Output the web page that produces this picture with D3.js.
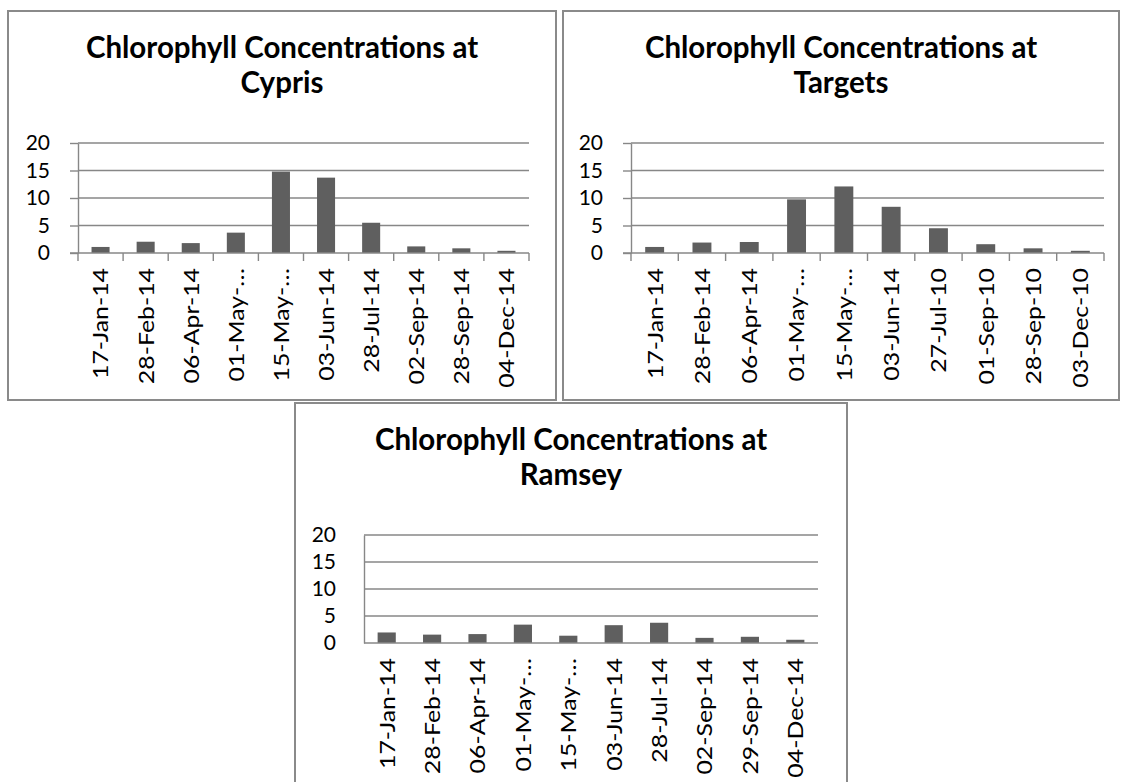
<!DOCTYPE html>
<html><head><meta charset="utf-8">
<script src="https://cdn.jsdelivr.net/npm/d3@7"></script>
<style>body{margin:0;background:#fff}svg{display:block}</style>
</head><body>
<svg id="c" width="1121" height="782"></svg>
<script>
const cyprisDates = ["17-Jan-14","28-Feb-14","06-Apr-14","01-May-…","15-May-…","03-Jun-14","28-Jul-14","02-Sep-14","28-Sep-14","04-Dec-14"];
const cyprisValues = [1.1, 2.05, 1.8, 3.7, 14.8, 13.7, 5.5, 1.2, 0.85, 0.4];
const targetsDates = ["17-Jan-14","28-Feb-14","06-Apr-14","01-May-…","15-May-…","03-Jun-14","27-Jul-10","01-Sep-10","28-Sep-10","03-Dec-10"];
const targetsValues = [1.1, 1.9, 2.0, 9.75, 12.1, 8.4, 4.5, 1.6, 0.85, 0.4];
const ramseyDates = ["17-Jan-14","28-Feb-14","06-Apr-14","01-May-…","15-May-…","03-Jun-14","28-Jul-14","02-Sep-14","29-Sep-14","04-Dec-14"];
const ramseyValues = [1.95, 1.55, 1.65, 3.4, 1.35, 3.3, 3.75, 0.95, 1.15, 0.6];
const yTicks = [0, 5, 10, 15, 20];
const titles = ["Chlorophyll Concentrations at Cypris","Chlorophyll Concentrations at Targets","Chlorophyll Concentrations at Ramsey"];

const svg = d3.select("#c");
const FONT = "Lato, 'Open Sans', sans-serif";
const GRID = "#878787";

function drawChart(cfg){
  const g = svg.append("g");
  g.append("rect").attr("x",cfg.fx).attr("y",cfg.fy).attr("width",cfg.fw).attr("height",cfg.fh)
    .attr("fill","#fff").attr("stroke","#8a8a8a").attr("stroke-width",2);
  const cx = cfg.fx + cfg.fw/2;
  const words = cfg.title.split(" ");
  const line2 = words.pop();
  g.append("text").attr("x",cx).attr("y",cfg.fy+47).attr("text-anchor","middle")
    .attr("font-family",FONT).attr("font-weight","bold").attr("font-size",29.5).text(words.join(" "));
  g.append("text").attr("x",cx).attr("y",cfg.fy+82).attr("text-anchor","middle")
    .attr("font-family",FONT).attr("font-weight","bold").attr("font-size",29.5).text(line2);

  const idx = cfg.dates.map((d,i)=>i);
  const x = d3.scaleBand().domain(idx).range([cfg.x0,cfg.x1]).paddingInner(0.6).paddingOuter(0.3);
  const xb = d3.scaleBand().domain(idx).range([cfg.x0,cfg.x1]);
  const y = d3.scaleLinear().domain([0,20]).range([cfg.y0,cfg.y1]);
  const tk = cfg.ticks ? 8 : 0;

  // gridlines
  g.append("g").selectAll("line").data(yTicks.filter(t=>t>0)).join("line")
    .attr("x1",cfg.x0).attr("x2",cfg.x1).attr("y1",d=>y(d)).attr("y2",d=>y(d))
    .attr("stroke",GRID).attr("stroke-width",1.4);
  // y axis
  const ya = g.append("g").attr("transform",`translate(${cfg.x0},0)`)
    .call(d3.axisLeft(y).tickValues(yTicks).tickSize(tk).tickSizeOuter(0).tickPadding(28-tk));
  ya.select(".domain").attr("stroke",GRID).attr("stroke-width",1.4);
  ya.selectAll(".tick line").attr("stroke",GRID).attr("stroke-width",1.4);
  ya.selectAll("text").attr("font-family",FONT).attr("font-size",21).attr("fill","#000");

  // bars
  g.append("g").selectAll("rect").data(cfg.values).join("rect")
    .attr("x",(d,i)=>x(i)).attr("width",x.bandwidth())
    .attr("y",d=>y(d)).attr("height",d=>y(0)-y(d)).attr("fill","#5f5f5f");

  // x axis
  g.append("line").attr("x1",cfg.x0-tk).attr("x2",cfg.x1).attr("y1",y(0)).attr("y2",y(0))
    .attr("stroke",GRID).attr("stroke-width",1.4);
  if (cfg.ticks) {
    const bounds = idx.map(i=>xb(i)).concat([cfg.x1]);
    g.append("g").selectAll("line").data(bounds).join("line")
      .attr("x1",d=>d).attr("x2",d=>d).attr("y1",y(0)).attr("y2",y(0)+8)
      .attr("stroke",GRID).attr("stroke-width",1.4);
  }
  g.append("g").selectAll("text").data(cfg.dates).join("text")
    .attr("transform",(d,i)=>`translate(${xb(i)+xb.bandwidth()/2},${y(0)+15}) rotate(-90) scale(1.13,1)`)
    .attr("dy","0.36em").attr("text-anchor","end")
    .attr("font-family",FONT).attr("font-size",22).attr("fill","#000").text(d=>d);
}

drawChart({fx:8,fy:11,fw:548,fh:389,title:titles[0],dates:cyprisDates,values:cyprisValues,x0:78,x1:529,y0:253,y1:143,ticks:true});
drawChart({fx:563,fy:11,fw:556,fh:389,title:titles[1],dates:targetsDates,values:targetsValues,x0:631,x1:1104,y0:253,y1:143,ticks:true});
drawChart({fx:295,fy:403,fw:552,fh:392,title:titles[2],dates:ramseyDates,values:ramseyValues,x0:364,x1:818,y0:643,y1:535,ticks:false});
</script>
</body></html>
